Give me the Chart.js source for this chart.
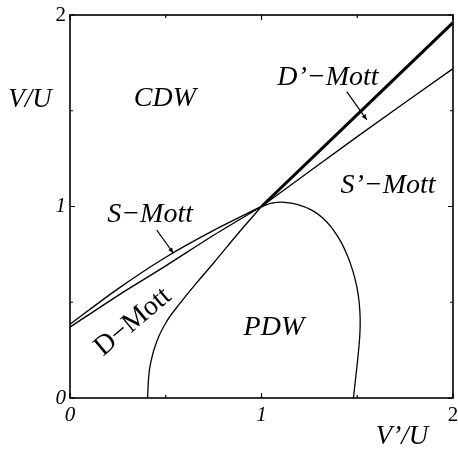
<!DOCTYPE html>
<html>
<head>
<meta charset="utf-8">
<script src="https://cdn.jsdelivr.net/npm/chart.js@4/dist/chart.umd.min.js"></script>
<style>
  body { margin: 0; background: #fff; }
  canvas { display: block; }
</style>
</head>
<body>
<canvas id="diagrama" width="458" height="452"></canvas>
<script>
// ejes
const tickMarks = [0, 0.5, 1, 1.5, 2];

// CDW / S-Mott (izquierda, arriba)
const sMottX = [0, 0.25, 0.5, 0.75, 1];
const sMottY = [0.385, 0.57, 0.735, 0.875, 1];

// S-Mott / D-Mott (izquierda, abajo)
const dMottX = [0, 0.25, 0.5, 0.75, 1];
const dMottY = [0.37, 0.535, 0.69, 0.85, 1];

// CDW / D'-Mott (linea gruesa)
const dPrimeX = [1, 1.5, 2];
const dPrimeY = [1, 1.48, 1.96];

// D'-Mott / S'-Mott
const sPrimeX = [1, 1.5, 2];
const sPrimeY = [1, 1.365, 1.72];

// frontera PDW: rama izquierda y arco
const pdwLeftX = [0.405, 0.41, 0.425, 0.455, 0.505, 0.575, 0.66, 0.75, 0.87, 1];
const pdwLeftY = [0, 0.1, 0.2, 0.3, 0.4, 0.495, 0.6, 0.705, 0.85, 1];
const pdwArcX = [1, 1.06, 1.12, 1.19, 1.26, 1.32, 1.37, 1.415, 1.45, 1.478, 1.498, 1.51, 1.515, 1.514, 1.508, 1.5, 1.49, 1.48];
const pdwArcY = [1, 1.019, 1.022, 1.01, 0.982, 0.94, 0.885, 0.815, 0.74, 0.66, 0.58, 0.5, 0.42, 0.34, 0.26, 0.18, 0.09, 0];

function puntos(xs, ys) {
    return xs.map((x, i) => ({ x: x, y: ys[i] }));
}

function linea(xs, ys, ancho, tension, monotona) {
    return {
        data: puntos(xs, ys),
        showLine: true,
        borderColor: '#000',
        borderWidth: ancho,
        pointRadius: 0,
        tension: tension,
        cubicInterpolationMode: monotona ? 'monotone' : 'default',
        fill: false
    };
}

const serif = '"Liberation Serif", "DejaVu Serif", serif';

// textos de las regiones (coordenadas de datos)
const etiquetas = [
    { text: 'CDW', x: 0.496, y: 1.561, italic: true },
    { text: 'PDW', x: 1.065, y: 0.366, italic: true },
    { text: 'S\u2019\u2212Mott', x: 1.661, y: 1.107, italic: true },
    { text: 'D\u2019\u2212Mott', x: 1.347, y: 1.671, italic: true },
    { text: 'S\u2212Mott', x: 0.418, y: 0.956, italic: true },
    { text: 'D\u2212Mott', x: 0.329, y: 0.397, italic: false, angle: -40 }
];

const flechas = [
    { x0: 0.453, y0: 0.877, x1: 0.54, y1: 0.756 },
    { x0: 1.445, y0: 1.6, x1: 1.55, y1: 1.452 }
];

const pluginDiagrama = {
    id: 'diagrama',
    beforeDraw(chart) {
        const ctx = chart.ctx;
        ctx.save();
        ctx.fillStyle = '#fff';
        ctx.fillRect(0, 0, chart.width, chart.height);
        ctx.restore();
    },
    afterDraw(chart) {
        const ctx = chart.ctx;
        const a = chart.chartArea;
        const xs = chart.scales.x;
        const ys = chart.scales.y;
        ctx.save();
        ctx.strokeStyle = '#000';
        ctx.fillStyle = '#000';

        // marco
        ctx.lineWidth = 1.6;
        ctx.strokeRect(a.left, a.top, a.right - a.left, a.bottom - a.top);

        // marcas hacia dentro
        ctx.lineWidth = 1.2;
        ctx.beginPath();
        tickMarks.forEach(v => {
            const len = v % 1 === 0 ? 5 : 3;
            const px = xs.getPixelForValue(v);
            const py = ys.getPixelForValue(v);
            ctx.moveTo(px, a.bottom); ctx.lineTo(px, a.bottom - len);
            ctx.moveTo(px, a.top); ctx.lineTo(px, a.top + len);
            ctx.moveTo(a.left, py); ctx.lineTo(a.left + len, py);
            ctx.moveTo(a.right, py); ctx.lineTo(a.right - len, py);
        });
        ctx.stroke();

        // flechas
        ctx.lineWidth = 1.2;
        flechas.forEach(f => {
            const x0 = xs.getPixelForValue(f.x0), y0 = ys.getPixelForValue(f.y0);
            const x1 = xs.getPixelForValue(f.x1), y1 = ys.getPixelForValue(f.y1);
            const ang = Math.atan2(y1 - y0, x1 - x0);
            ctx.beginPath();
            ctx.moveTo(x0, y0);
            ctx.lineTo(x1, y1);
            ctx.stroke();
            ctx.beginPath();
            ctx.moveTo(x1, y1);
            ctx.lineTo(x1 - 6 * Math.cos(ang - 0.4), y1 - 6 * Math.sin(ang - 0.4));
            ctx.lineTo(x1 - 6 * Math.cos(ang + 0.4), y1 - 6 * Math.sin(ang + 0.4));
            ctx.closePath();
            ctx.fill();
        });

        // etiquetas
        ctx.textAlign = 'center';
        ctx.textBaseline = 'middle';
        etiquetas.forEach(e => {
            ctx.save();
            ctx.font = (e.italic ? 'italic ' : '') + '28px ' + serif;
            ctx.translate(xs.getPixelForValue(e.x), ys.getPixelForValue(e.y));
            if (e.angle) ctx.rotate(e.angle * Math.PI / 180);
            ctx.fillText(e.text, 0, 0);
            ctx.restore();
        });

        // titulos de ejes
        ctx.font = 'italic 27px ' + serif;
        ctx.fillText('V/U', 30, 100);
        ctx.fillText('V\u2019/U', 402, 437);
        ctx.restore();
    }
};

function fuenteTick(c) {
    const recta = c.tick && c.tick.value === 2;
    return { family: serif, size: 21, style: recta ? 'normal' : 'italic' };
}

function sinRelleno(s) {
    s.paddingLeft = 0;
    s.paddingRight = 0;
    s.paddingTop = 0;
    s.paddingBottom = 0;
}

new Chart(document.getElementById('diagrama').getContext('2d'), {
    type: 'scatter',
    data: {
        datasets: [
            linea(sMottX, sMottY, 1.4, 0.3),
            linea(dMottX, dMottY, 1.4, 0.3),
            linea(dPrimeX, dPrimeY, 3, 0),
            linea(sPrimeX, sPrimeY, 1.3, 0.2),
            linea(pdwLeftX, pdwLeftY, 1.3, 0, true),
            linea(pdwArcX, pdwArcY, 1.3, 0.4)
        ]
    },
    options: {
        responsive: false,
        animation: false,
        layout: { padding: { top: 15, right: 5, left: 0, bottom: 0 } },
        plugins: {
            legend: { display: false },
            tooltip: { enabled: false }
        },
        scales: {
            x: {
                type: 'linear',
                min: 0,
                max: 2,
                grid: { display: false, drawTicks: false },
                border: { display: false },
                ticks: { stepSize: 1, padding: 5, color: '#000', font: fuenteTick, maxRotation: 0 },
                afterFit: s => { s.height = 54; sinRelleno(s); }
            },
            y: {
                type: 'linear',
                min: 0,
                max: 2,
                grid: { display: false, drawTicks: false },
                border: { display: false },
                ticks: { stepSize: 1, padding: 4, color: '#000', font: fuenteTick },
                afterFit: s => { s.width = 70; sinRelleno(s); }
            }
        }
    },
    plugins: [pluginDiagrama]
});
</script>
</body>
</html>
